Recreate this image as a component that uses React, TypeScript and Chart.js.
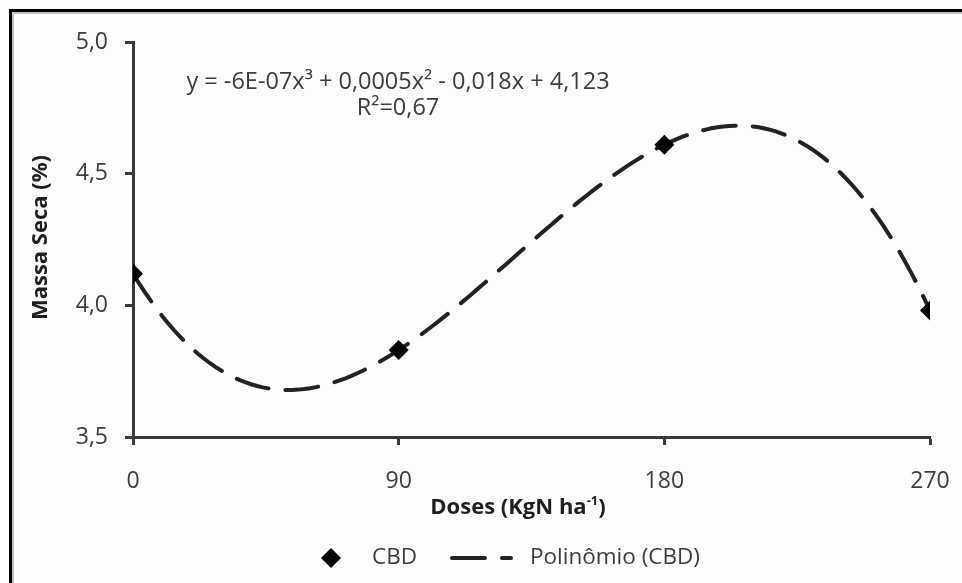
import { useEffect, useRef } from "react";
import { Chart, registerables } from "chart.js";

Chart.register(...registerables);

// Observed dry mass for each nitrogen dose
const doses = [0, 90, 180, 270];
const cbd = [4.12, 3.83, 4.61, 3.98];

// Axis ticks
const xTicks = [0, 90, 180, 270];
const yTicks = [3.5, 4.0, 4.5, 5.0];

// Labels
const equationText = "y = -6E-07x³ + 0,0005x² - 0,018x + 4,123";
const r2Text = "R²=0,67";
const xTitleMain = "Doses (KgN ha";
const xTitleSup = "-1";
const xTitleEnd = ")";
const yTitle = "Massa Seca (%)";
const seriesName = "CBD";
const trendName = "Polinômio (CBD)";

const FONT = "'Open Sans', 'Liberation Sans', sans-serif";
const AXIS_COLOR = "#3a3a3a";
const TEXT_COLOR = "#3c3c3c";
const TITLE_COLOR = "#1e1e1e";
const TREND_DASH = [33, 17];

// Least-squares polynomial (degree 3) fitted to the observed points, x scaled by 90 for stability
function fitCubic(xs: number[], ys: number[]) {
  const n = 4;
  const s = 90;
  const A: number[][] = Array.from({ length: n }, () => new Array(n + 1).fill(0));
  xs.forEach((xv, k) => {
    const t = xv / s;
    for (let i = 0; i < n; i++) {
      for (let j = 0; j < n; j++) A[i][j] += Math.pow(t, i + j);
      A[i][n] += ys[k] * Math.pow(t, i);
    }
  });
  for (let c = 0; c < n; c++) {
    let p = c;
    for (let r = c + 1; r < n; r++) if (Math.abs(A[r][c]) > Math.abs(A[p][c])) p = r;
    [A[c], A[p]] = [A[p], A[c]];
    for (let r = 0; r < n; r++) {
      if (r === c) continue;
      const f = A[r][c] / A[c][c];
      for (let k = c; k <= n; k++) A[r][k] -= f * A[c][k];
    }
  }
  const coef = A.map((row, i) => row[n] / row[i]);
  return (xv: number) => {
    const t = xv / s;
    return coef.reduce((acc, c, i) => acc + c * Math.pow(t, i), 0);
  };
}

const decorations = {
  id: "decorations",
  beforeDraw(chart: any) {
    const { ctx, width, height } = chart;
    ctx.save();
    ctx.fillStyle = "#fdfdfd";
    ctx.fillRect(0, 0, width, height);
    // outer frame (top and left edges)
    ctx.fillStyle = "#000";
    ctx.fillRect(9, 9, width - 9, 3);
    ctx.fillRect(9, 9, 3, height - 9);
    ctx.fillStyle = "#c4c4c4";
    ctx.fillRect(12, 12, width - 12, 2);
    ctx.fillRect(12, 12, 2, height - 12);
    ctx.restore();
  },
  afterDraw(chart: any) {
    const { ctx, chartArea: a } = chart;
    ctx.save();

    // trend equation
    ctx.fillStyle = TEXT_COLOR;
    ctx.font = `23.5px ${FONT}`;
    ctx.textAlign = "center";
    ctx.textBaseline = "middle";
    const eqX = a.left + 265;
    ctx.fillText(equationText, eqX, a.top + 40);
    ctx.fillText(r2Text, eqX, a.top + 66);

    // x title with superscript
    ctx.fillStyle = TITLE_COLOR;
    const bold = `bold 22px ${FONT}`;
    const supFont = `bold 13px ${FONT}`;
    ctx.font = bold;
    const w1 = ctx.measureText(xTitleMain).width;
    const w3 = ctx.measureText(xTitleEnd).width;
    ctx.font = supFont;
    const w2 = ctx.measureText(xTitleSup).width;
    const total = w1 + w2 + w3;
    const cx = a.left + 385;
    const ty = a.bottom + 71;
    let x = cx - total / 2;
    ctx.textAlign = "left";
    ctx.font = bold;
    ctx.fillText(xTitleMain, x, ty);
    x += w1;
    ctx.font = supFont;
    ctx.fillText(xTitleSup, x, ty - 7);
    x += w2;
    ctx.font = bold;
    ctx.fillText(xTitleEnd, x, ty);

    // y title
    ctx.save();
    ctx.translate(41, (a.top + a.bottom) / 2 - 2);
    ctx.rotate(-Math.PI / 2);
    ctx.textAlign = "center";
    ctx.font = bold;
    ctx.fillText(yTitle, 0, 0);
    ctx.restore();

    // legend
    const ly = a.bottom + 121;
    ctx.fillStyle = "#000";
    ctx.beginPath();
    const dx = 331, r = 10;
    ctx.moveTo(dx - r, ly);
    ctx.lineTo(dx, ly - r);
    ctx.lineTo(dx + r, ly);
    ctx.lineTo(dx, ly + r);
    ctx.closePath();
    ctx.fill();
    ctx.font = `22.5px ${FONT}`;
    ctx.fillStyle = TEXT_COLOR;
    ctx.textAlign = "left";
    ctx.fillText(seriesName, 372, ly);
    ctx.strokeStyle = "#222";
    ctx.lineWidth = 4;
    ctx.lineCap = "round";
    ctx.setLineDash(TREND_DASH);
    ctx.beginPath();
    ctx.moveTo(452, ly);
    ctx.lineTo(511, ly);
    ctx.stroke();
    ctx.setLineDash([]);
    ctx.fillText(trendName, 530, ly);
    ctx.restore();
  },
};

export default function App() {
  const canvasRef = useRef<HTMLCanvasElement | null>(null);

  useEffect(() => {
    if (!canvasRef.current) return;
    const trend = fitCubic(doses, cbd);
    const trendPoints: { x: number; y: number }[] = [];
    for (let xv = doses[0]; xv <= doses[doses.length - 1]; xv += 2) {
      trendPoints.push({ x: xv, y: trend(xv) });
    }

    const chart = new Chart(canvasRef.current, {
      type: "scatter",
      data: {
        datasets: [
          {
            label: seriesName,
            data: doses.map((d, i) => ({ x: d, y: cbd[i] })),
            pointStyle: "rectRot",
            pointRadius: 10,
            backgroundColor: "#000",
            borderColor: "#000",
            borderWidth: 0,
            order: 0,
          },
          {
            label: trendName,
            data: trendPoints,
            showLine: true,
            pointRadius: 0,
            borderColor: "#222",
            borderWidth: 4,
            borderDash: TREND_DASH,
            borderCapStyle: "round",
            fill: false,
            order: 1,
          } as any,
        ],
      },
      options: {
        responsive: true,
        maintainAspectRatio: false,
        animation: false,
        layout: { padding: { top: 42, right: 32, left: 0, bottom: 0 } },
        plugins: { legend: { display: false }, tooltip: { enabled: false } },
        scales: {
          x: {
            type: "linear",
            min: 0,
            max: 270,
            afterBuildTicks: (s: any) => {
              s.ticks = xTicks.map((value) => ({ value }));
            },
            afterFit: (s: any) => {
              s.height = 146;
              s.paddingLeft = 0;
              s.paddingRight = 0;
            },
            ticks: { font: { size: 23, family: FONT }, color: TEXT_COLOR, padding: 23 },
            grid: { drawOnChartArea: false, tickLength: 8, tickColor: AXIS_COLOR, tickWidth: 3 },
            border: { color: AXIS_COLOR, width: 3 },
          },
          y: {
            type: "linear",
            min: 3.5,
            max: 5.0,
            afterBuildTicks: (s: any) => {
              s.ticks = yTicks.map((value) => ({ value }));
            },
            afterFit: (s: any) => {
              s.width = 133;
              s.paddingTop = 0;
              s.paddingBottom = 0;
            },
            ticks: {
              font: { size: 23, family: FONT },
              color: TEXT_COLOR,
              padding: 17,
              callback: (v: any) => Number(v).toFixed(1).replace(".", ","),
            },
            grid: { drawOnChartArea: false, tickLength: 8, tickColor: AXIS_COLOR, tickWidth: 3 },
            border: { color: AXIS_COLOR, width: 3 },
          },
        },
      },
      plugins: [decorations],
    });
    return () => chart.destroy();
  }, []);

  return (
    <div style={{ position: "fixed", left: 0, top: 0, width: 962, height: 583, background: "#fdfdfd" }}>
      <canvas ref={canvasRef} />
    </div>
  );
}
